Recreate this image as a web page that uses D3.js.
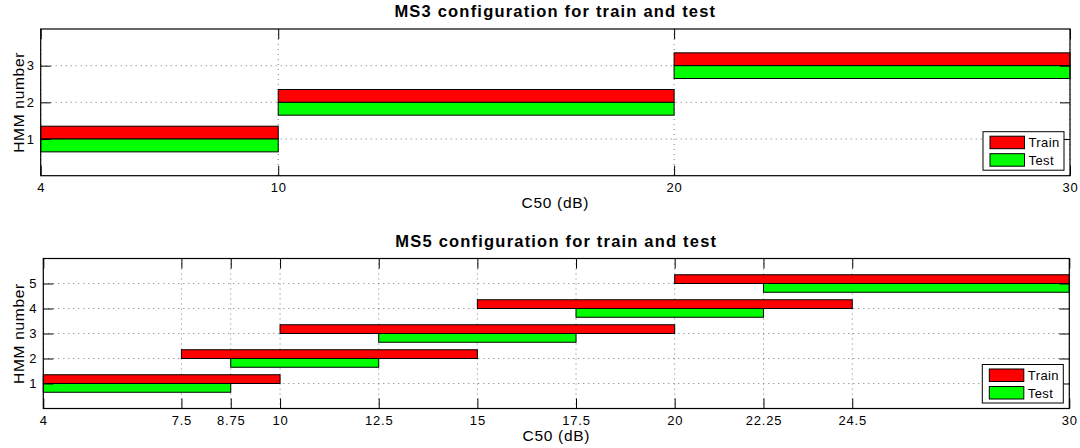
<!DOCTYPE html>
<html lang="en">
<head>
<meta charset="utf-8">
<script src="https://d3js.org/d3.v7.min.js"></script>
<title>MS3 / MS5 configuration for train and test</title>
<style>
  body { margin: 0; background: #fff; }
  svg { font-family: "Liberation Sans", Arial, sans-serif; }
  .tick text { font-size: 13px; letter-spacing: 0.8px; fill: #000; }
  .tick line { stroke: #000; }
  .grid line { stroke: #555; stroke-dasharray: 1,4; stroke-width: 0.8; }
  .title { font-size: 16.5px; font-weight: bold; letter-spacing: 1.2px; }
  .label { font-size: 15.5px; letter-spacing: 0.7px; }
  .legend text { font-size: 13px; letter-spacing: 0.4px; }
</style>
</head>
<body>
<svg id="chart" width="1080" height="448"></svg>
<script>
// ---- data ----
var ms3Hmm        = [1, 2, 3];
var ms3TrainStart = [4, 10, 20];
var ms3TrainEnd   = [10, 20, 30];
var ms3TestStart  = [4, 10, 20];
var ms3TestEnd    = [10, 20, 30];
var ms3XTicks     = [4, 10, 20, 30];
var ms3YTicks     = [1, 2, 3];

var ms5Hmm        = [1, 2, 3, 4, 5];
var ms5TrainStart = [4, 7.5, 10, 15, 20];
var ms5TrainEnd   = [10, 15, 20, 24.5, 30];
var ms5TestStart  = [4, 8.75, 12.5, 17.5, 22.25];
var ms5TestEnd    = [8.75, 12.5, 17.5, 22.25, 30];
var ms5XTicks     = [4, 7.5, 8.75, 10, 12.5, 15, 17.5, 20, 22.25, 24.5, 30];
var ms5YTicks     = [1, 2, 3, 4, 5];

var seriesNames  = ["Train", "Test"];
var seriesColors = ["#ff0000", "#00ff00"];
var barHalf = 0.35;

var svg = d3.select("#chart");

function drawPanel(p) {
  var width = p.right - p.left,
      height = p.bottom - p.top;

  var g = svg.append("g").attr("transform", "translate(" + p.left + "," + p.top + ")");

  var x = d3.scaleLinear().domain([4, 30]).range([0, width]);
  var y = d3.scaleLinear().domain(p.yDomain).range([height, 0]);

  // dotted grid
  var grid = g.append("g").attr("class", "grid");
  grid.selectAll(".gx").data(p.xTicks).enter().append("line")
      .attr("x1", function(d) { return x(d); }).attr("x2", function(d) { return x(d); })
      .attr("y1", 0).attr("y2", height);
  grid.selectAll(".gy").data(p.yTicks).enter().append("line")
      .attr("y1", function(d) { return y(d); }).attr("y2", function(d) { return y(d); })
      .attr("x1", 0).attr("x2", width);

  // bars
  var rows = p.hmm.map(function(h, i) {
    return [
      { s: 0, x0: p.trainStart[i], x1: p.trainEnd[i], y0: h, y1: h + barHalf },
      { s: 1, x0: p.testStart[i],  x1: p.testEnd[i],  y0: h - barHalf, y1: h }
    ];
  });
  var bars = [].concat.apply([], rows);

  g.selectAll(".bar").data(bars).enter().append("rect")
      .attr("class", "bar")
      .attr("x", function(d) { return x(d.x0); })
      .attr("width", function(d) { return x(d.x1) - x(d.x0); })
      .attr("y", function(d) { return y(d.y1); })
      .attr("height", function(d) { return y(d.y0) - y(d.y1); })
      .attr("fill", function(d) { return seriesColors[d.s]; })
      .attr("stroke", "#000")
      .attr("stroke-width", 1);

  // axes, ticks inside like matlab
  var xa = g.append("g").attr("transform", "translate(0," + height + ")")
      .call(d3.axisBottom(x).tickValues(p.xTicks).tickFormat(d3.format("")).tickSize(-10).tickPadding(7.5));
  xa.select(".domain").remove();
  xa.selectAll("text").attr("fill", "#000");

  var xt = g.append("g")
      .call(d3.axisTop(x).tickValues(p.xTicks).tickSize(-10).tickFormat(""));
  xt.select(".domain").remove();

  var ya = g.append("g")
      .call(d3.axisLeft(y).tickValues(p.yTicks).tickFormat(d3.format("d")).tickSize(-10).tickPadding(6));
  ya.select(".domain").remove();

  var yr = g.append("g").attr("transform", "translate(" + width + ",0)")
      .call(d3.axisRight(y).tickValues(p.yTicks).tickSize(-10).tickFormat(""));
  yr.select(".domain").remove();

  // box
  g.append("rect")
      .attr("width", width).attr("height", height)
      .attr("fill", "none").attr("stroke", "#000").attr("stroke-width", 1.2);

  // texts
  g.append("text").attr("class", "title")
      .attr("x", width / 2).attr("y", -12)
      .attr("text-anchor", "middle")
      .text(p.title);

  g.append("text").attr("class", "label")
      .attr("x", width / 2).attr("y", height + 32.5)
      .attr("text-anchor", "middle")
      .text("C50 (dB)");

  g.append("text").attr("class", "label")
      .attr("transform", "translate(" + (23.5 - p.left) + "," + (height / 2) + ") rotate(-90)")
      .attr("text-anchor", "middle")
      .text("HMM number");

  // legend
  var lw = 81, lh = 38.5;
  var legend = g.append("g").attr("class", "legend")
      .attr("transform", "translate(" + (width - 6 - lw) + "," + (height - 5.5 - lh) + ")");
  legend.append("rect")
      .attr("width", lw).attr("height", lh)
      .attr("fill", "#fff").attr("stroke", "#000").attr("stroke-width", 1);
  var item = legend.selectAll(".item").data(seriesNames).enter().append("g")
      .attr("transform", function(d, i) { return "translate(7," + (4.5 + i * 17.5) + ")"; });
  item.append("rect")
      .attr("width", 34.5).attr("height", 12.5)
      .attr("fill", function(d, i) { return seriesColors[i]; })
      .attr("stroke", "#000");
  item.append("text")
      .attr("x", 38.5).attr("y", 11)
      .text(function(d) { return d; });
}

drawPanel({
  left: 40.7, right: 1070, top: 29, bottom: 175.7,
  yDomain: [0, 4], title: "MS3 configuration for train and test",
  hmm: ms3Hmm, trainStart: ms3TrainStart, trainEnd: ms3TrainEnd,
  testStart: ms3TestStart, testEnd: ms3TestEnd,
  xTicks: ms3XTicks, yTicks: ms3YTicks
});

drawPanel({
  left: 43.3, right: 1069.3, top: 258.5, bottom: 408.5,
  yDomain: [0, 6], title: "MS5 configuration for train and test",
  hmm: ms5Hmm, trainStart: ms5TrainStart, trainEnd: ms5TrainEnd,
  testStart: ms5TestStart, testEnd: ms5TestEnd,
  xTicks: ms5XTicks, yTicks: ms5YTicks
});
</script>
</body>
</html>
